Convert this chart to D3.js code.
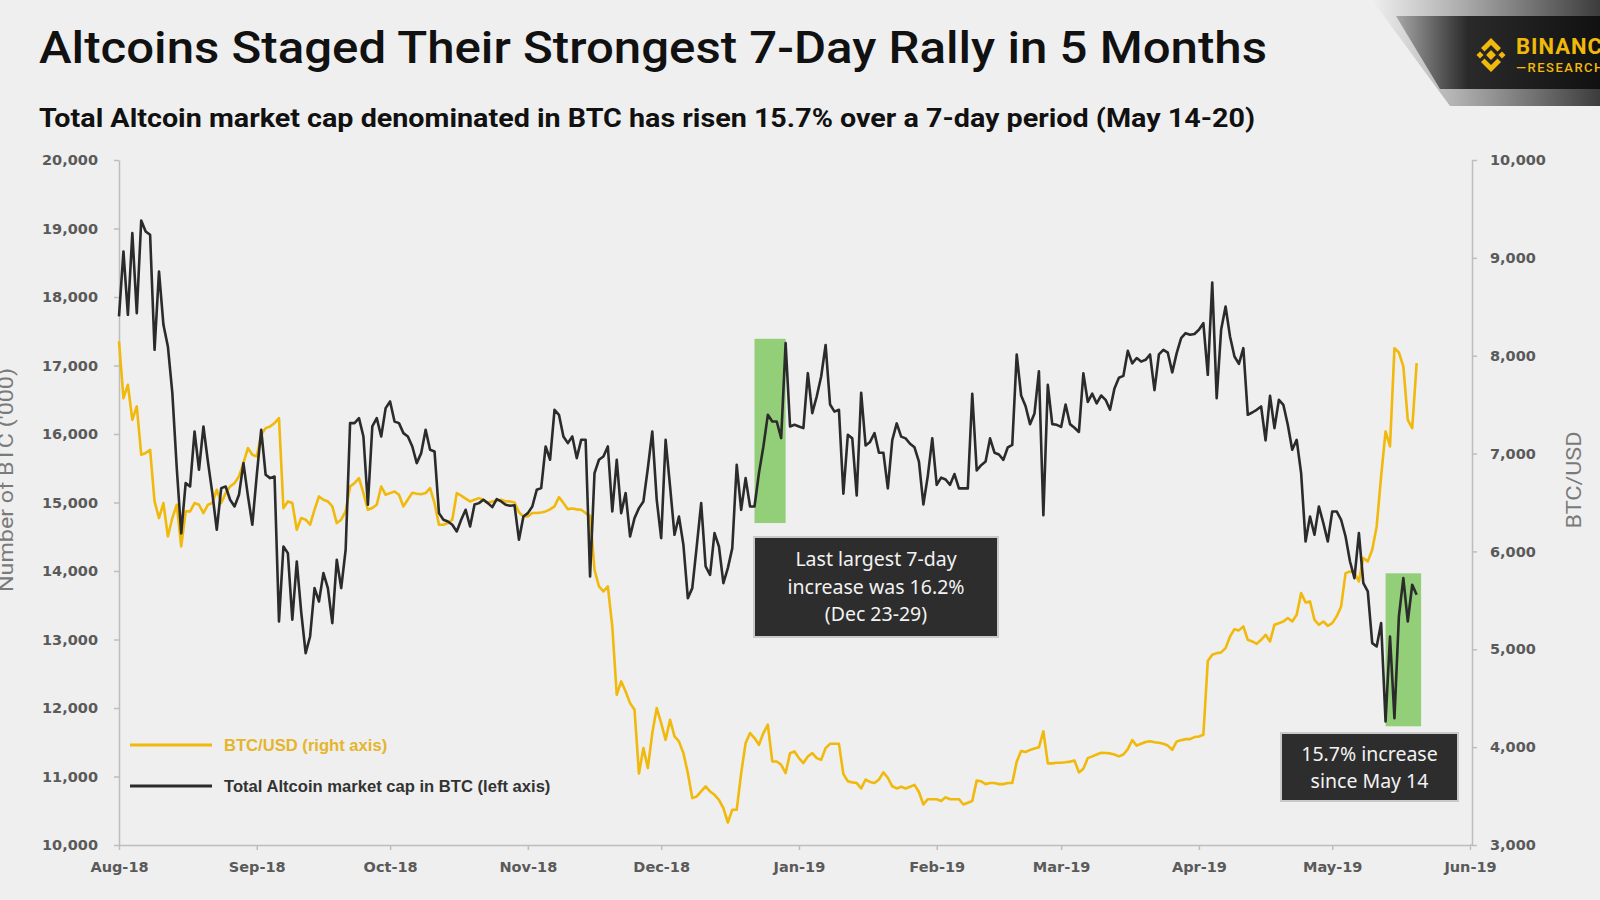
<!DOCTYPE html>
<html><head><meta charset="utf-8">
<script src="https://cdn.jsdelivr.net/npm/d3@7"></script>
<style>html,body{margin:0;padding:0;background:#efefef;overflow:hidden}</style>
</head><body>
<svg id="c" width="1600" height="900"></svg>
<script>
// ---------------- DATA ----------------
const startDate = "2018-08-01"; // daily series, one value per day from this date
const altValues = [
17716,18665,17740,18932,17765,19117,18957,18908,17229,18373,
17594,17278,16600,15500,14550,15283,15234,16037,15478,16110,
15600,15137,14602,15210,15234,15040,14942,15112,15575,15100,
14675,15400,16061,15405,15356,15380,13264,14358,14261,13288,
14139,13400,12801,13044,13750,13555,13969,13750,13239,14164,
13750,14310,16159,16159,16232,15964,14967,16110,16232,15964,
16378,16475,16183,16159,16013,15964,15818,15575,15721,16061,
15770,15745,14845,14748,14723,14675,14577,14748,14894,14650,
14970,14991,15039,14991,14932,15049,15015,14966,14952,14960,
14456,14796,14845,14942,15185,15210,15818,15624,16353,16280,
15964,15867,15964,15648,15915,15915,13920,15429,15624,15672,
15818,14869,15624,14845,15137,14504,14772,14918,15015,15500,
16037,15039,14480,15915,15234,14529,14796,14383,13604,13750,
14358,14991,14066,13944,14553,14358,13823,14042,14334,15551,
14893,15356,14942,14942,15429,15818,16280,16183,16183,15940,
17326,16110,16134,16110,16086,16888,16305,16548,16840,17300,
16431,16327,16353,15128,15988,15936,15102,16603,15832,15884,
16014,15727,15727,15206,15910,16155,15962,15936,15858,15806,
15597,14971,15389,15936,15258,15363,15336,15258,15415,15206,
15206,15206,16588,15467,15545,15597,15936,15727,15701,15623,
15806,15842,17161,16562,16405,16144,16301,16916,14815,16718,
16144,16134,16103,16431,16144,16092,16030,16885,16468,16588,
16447,16562,16499,16353,16666,16822,16848,17214,17031,17109,
17057,17083,17161,16640,17161,17229,17187,16900,17181,17400,
17472,17448,17460,17521,17618,16864,18212,16524,17521,17862,
17424,17132,17025,17253,16280,16314,16353,16402,15906,16558,
16086,16499,16426,16134,15769,15915,15429,14431,14796,14529,
14942,14699,14431,14869,14869,14748,14504,14139,13896,14553,
13823,13701,12947,12898,13239,11804,13044,11852,13336,13896,
13263,13799,13652];
const btcValues = [
8146,7567,7703,7345,7482,6988,7005,7039,6511,6341,
6494,6153,6341,6477,6051,6409,6409,6494,6477,6392,
6477,6494,6630,6494,6596,6664,6698,6766,6902,7056,
6988,6971,7192,7260,7277,7311,7362,6443,6511,6494,
6221,6341,6324,6273,6426,6562,6528,6511,6460,6290,
6324,6409,6664,6698,6749,6596,6426,6443,6477,6664,
6579,6596,6613,6579,6460,6530,6600,6590,6585,6596,
6647,6494,6273,6273,6290,6324,6596,6570,6540,6511,
6528,6545,6528,6494,6511,6520,6528,6511,6511,6500,
6400,6357,6357,6392,6392,6398,6409,6430,6460,6555,
6494,6432,6439,6430,6426,6392,6364,5813,5642,5591,
5642,5233,4535,4672,4569,4450,4382,3730,3990,3786,
4144,4399,4246,4075,4280,4110,4058,3939,3735,3479,
3496,3547,3598,3547,3513,3462,3377,3230,3360,3360,
3735,4041,4144,4093,4024,4144,4229,3854,3854,3820,
3735,3939,3956,3888,3837,3905,3939,3888,3870,3990,
4034,4034,4034,3724,3651,3640,3633,3578,3669,3644,
3633,3669,3742,3687,3600,3578,3596,3578,3596,3614,
3541,3414,3468,3468,3468,3450,3487,3468,3468,3468,
3414,3432,3450,3658,3651,3622,3633,3633,3622,3622,
3633,3633,3852,3961,3950,3972,3985,3998,4162,3834,
3834,3841,3841,3845,3852,3863,3742,3779,3888,3906,
3925,3943,3940,3936,3925,3906,3925,3980,4071,4016,
4034,4052,4060,4050,4045,4034,4016,3973,4058,4070,
4082,4082,4103,4109,4126,4880,4944,4961,4968,5012,
5131,5206,5193,5233,5097,5080,5056,5097,5148,5080,
5250,5267,5284,5319,5284,5353,5574,5479,5489,5302,
5250,5284,5240,5267,5336,5438,5778,5795,5785,5693,
5932,5898,6017,6255,6766,7226,7073,8077,8033,7890,
7345,7260,7924];
const leftTicks = [10000,11000,12000,13000,14000,15000,16000,17000,18000,19000,20000];
const rightTicks = [3000,4000,5000,6000,7000,8000,9000,10000];
const monthTicks = ["2018-08-01","2018-09-01","2018-10-01","2018-11-01","2018-12-01","2019-01-01","2019-02-01","2019-03-01","2019-04-01","2019-05-01","2019-06-01"];
const monthLabels = ["Aug-18","Sep-18","Oct-18","Nov-18","Dec-18","Jan-19","Feb-19","Mar-19","Apr-19","May-19","Jun-19"];
const highlightStart = ["2018-12-22","2019-05-13"];
const highlightEnd   = ["2018-12-29","2019-05-21"];
const highlightTop   = [17390,13966];
const highlightBottom= [14700,11733];
const seriesNames = ["BTC/USD (right axis)","Total Altcoin market cap in BTC (left axis)"];

// ---------------- CHART ----------------
const parse = d3.timeParse("%Y-%m-%d");
const t0 = parse(startDate);
const svg = d3.select("#c");
const BG = "#efefef";
svg.append("rect").attr("width",1600).attr("height",900).attr("fill",BG);

const x = d3.scaleTime().domain([parse("2018-08-01"), parse("2019-06-01")]).range([119,1470]);
const yL = d3.scaleLinear().domain([10000,20000]).range([845,160]);
const yR = d3.scaleLinear().domain([3000,10000]).range([845,160]);

const altData = altValues.map((v,i)=>({date:d3.timeDay.offset(t0,i), v}));
const btcData = btcValues.map((v,i)=>({date:d3.timeDay.offset(t0,i), v}));

// logo band
const defs = svg.append("defs");
const g1 = defs.append("linearGradient").attr("id","gOuter").attr("x1","0").attr("x2","1").attr("y1","0").attr("y2","0");
g1.append("stop").attr("offset","0").attr("stop-color","#efefef");
g1.append("stop").attr("offset","0.35").attr("stop-color","#b4b4b4");
g1.append("stop").attr("offset","1").attr("stop-color","#3c3c3c");
const g2 = defs.append("linearGradient").attr("id","gBand").attr("x1","0").attr("x2","1").attr("y1","0").attr("y2","0");
g2.append("stop").attr("offset","0").attr("stop-color","#a8a8a8");
g2.append("stop").attr("offset","0.35").attr("stop-color","#2a2a2a");
g2.append("stop").attr("offset","1").attr("stop-color","#111");
svg.append("polygon").attr("points","1372,0 1600,0 1600,106 1450,106").attr("fill","url(#gOuter)");
svg.append("polygon").attr("points","1396,16 1600,16 1600,89 1440,89").attr("fill","url(#gBand)");
// diamond icon
const ic = svg.append("g").attr("transform","translate(1491,55)").attr("fill","#f0b90b");
const dia = (cx,cy,s)=>ic.append("rect").attr("x",cx-s/2).attr("y",cy-s/2).attr("width",s).attr("height",s).attr("transform",`rotate(45 ${cx} ${cy})`);
dia(0,0,7); dia(-11,0,5); dia(11,0,5);
ic.append("path").attr("d","M0,-17 L10,-7 L6.5,-3.5 L0,-10 L-6.5,-3.5 L-10,-7 Z");
ic.append("path").attr("d","M0,17 L10,7 L6.5,3.5 L0,10 L-6.5,3.5 L-10,7 Z");
svg.append("text").attr("x",1516).attr("y",54).attr("font-family","Roboto").attr("font-weight",700).attr("font-size",22).attr("letter-spacing",1).attr("fill","#f0b90b").text("BINANCE");
svg.append("text").attr("x",1516).attr("y",72).attr("font-family","Roboto").attr("font-weight",500).attr("font-size",13).attr("letter-spacing",1.5).attr("fill","#f0b90b").text("—RESEARCH");

// titles
svg.append("text").attr("x",39).attr("y",63).attr("font-family","Roboto").attr("font-weight",500)
  .attr("font-size",45).attr("fill","#111").attr("textLength",1228).attr("lengthAdjust","spacingAndGlyphs")
  .text("Altcoins Staged Their Strongest 7-Day Rally in 5 Months");
svg.append("text").attr("x",39).attr("y",127).attr("font-family","Roboto").attr("font-weight",700)
  .attr("font-size",26).attr("fill","#111").attr("textLength",1216).attr("lengthAdjust","spacingAndGlyphs")
  .text("Total Altcoin market cap denominated in BTC has risen 15.7% over a 7-day period (May 14-20)");

// highlight rects
highlightStart.forEach((s,i)=>{
  svg.append("rect").attr("x",x(parse(s))).attr("width",x(parse(highlightEnd[i]))-x(parse(s)))
    .attr("y",yL(highlightTop[i])).attr("height",yL(highlightBottom[i])-yL(highlightTop[i]))
    .attr("fill","#93cf79");
});

// axes
const axCol = "#bdbdbd", lblCol = "#5a5a5a";
function styleAxis(g){
  g.selectAll("path,line").attr("stroke",axCol).attr("stroke-width",1.5);
  g.selectAll("text").attr("font-family","DejaVu Sans").attr("font-weight",700).attr("font-size",14.5).attr("fill",lblCol);
}
svg.append("g").attr("transform","translate(119,0)")
  .call(d3.axisLeft(yL).tickValues(leftTicks).tickFormat(d3.format(",")).tickSize(5).tickSizeOuter(0).tickPadding(16))
  .call(styleAxis);
svg.append("g").attr("transform","translate(1472,0)")
  .call(d3.axisRight(yR).tickValues(rightTicks).tickFormat(d3.format(",")).tickSize(5).tickSizeOuter(0).tickPadding(13))
  .call(styleAxis);
svg.append("g").attr("transform","translate(0,845)")
  .call(d3.axisBottom(x).tickValues(monthTicks.map(parse)).tickFormat((d,i)=>monthLabels[i]).tickSize(5).tickSizeOuter(0).tickPadding(12))
  .call(styleAxis);
svg.append("line").attr("x1",1470).attr("x2",1472).attr("y1",845).attr("y2",845).attr("stroke",axCol).attr("stroke-width",1.5);

// axis titles
svg.append("text").attr("transform","translate(13,480) rotate(-90)").attr("text-anchor","middle")
  .attr("font-family","Roboto").attr("font-size",20).attr("fill","#7a7a7a").attr("textLength",224).attr("lengthAdjust","spacingAndGlyphs")
  .text("Number of BTC ('000)");
svg.append("text").attr("transform","translate(1581,480) rotate(-90)").attr("text-anchor","middle")
  .attr("font-family","Roboto").attr("font-size",20).attr("fill","#7a7a7a").attr("textLength",97).attr("lengthAdjust","spacingAndGlyphs")
  .text("BTC/USD");

// lines
const lineBtc = d3.line().x(d=>x(d.date)).y(d=>yR(d.v));
const lineAlt = d3.line().x(d=>x(d.date)).y(d=>yL(d.v));
svg.append("path").datum(btcData).attr("d",lineBtc).attr("fill","none").attr("stroke","#f0b90b").attr("stroke-width",2.6).attr("stroke-linejoin","round");
svg.append("path").datum(altData).attr("d",lineAlt).attr("fill","none").attr("stroke","#2b2b2b").attr("stroke-width",2.6).attr("stroke-linejoin","round");

// legend
const legCols = ["#f0b90b","#2b2b2b"], legTxt = ["#e5b52b","#333"];
[745,786].forEach((yy,i)=>{
  svg.append("line").attr("x1",130).attr("x2",212).attr("y1",yy).attr("y2",yy).attr("stroke",legCols[i]).attr("stroke-width",3);
  svg.append("text").attr("x",224).attr("y",yy+6).attr("font-family","Liberation Sans").attr("font-weight",700)
    .attr("font-size",16.6).attr("fill",legTxt[i]).text(seriesNames[i]);
});

// annotation boxes
function box(x0,y0,w,h,lines,base,step){
  svg.append("rect").attr("x",x0).attr("y",y0).attr("width",w).attr("height",h).attr("fill","#2d2d2d").attr("stroke","#c9c9c9").attr("stroke-width",2);
  lines.forEach((t,i)=>svg.append("text").attr("x",x0+w/2).attr("y",base+i*step).attr("text-anchor","middle")
    .attr("font-family","Noto Sans").attr("font-size",19.5).attr("fill","#f2f2f2").text(t));
}
box(754,537,244,100,["Last largest 7-day","increase was 16.2%","(Dec 23-29)"],566,27.5);
box(1281,733,177,68,["15.7% increase","since May 14"],761,27);
</script>
</body></html>
